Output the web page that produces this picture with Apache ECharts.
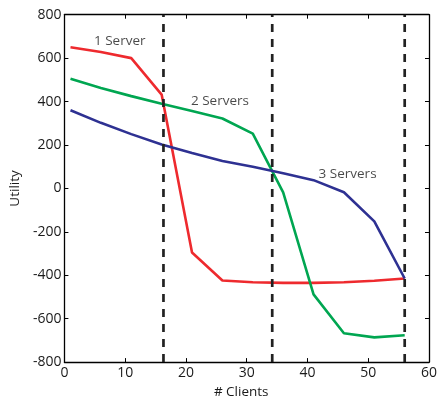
<!DOCTYPE html>
<html>
<head>
<meta charset="utf-8">
<script src="https://cdn.jsdelivr.net/npm/echarts@6/dist/echarts.min.js"></script>
<style>
  html, body { margin: 0; padding: 0; background: #fff; }
  #main { width: 440px; height: 404px; }
</style>
</head>
<body>
<div id="main"></div>
<script>
// clients on x, utility on y
var clients = [1, 6, 11, 16, 21, 26, 31, 36, 41, 46, 51, 56];
var oneServer = [650, 628, 600, 432, -295, -424, -432, -435, -435, -432, -425, -415];
var twoServers = [505, 462, 425, 390, 356, 322, 252, -18, -488, -667, -686, -676];
var threeServers = [360, 302, 250, 202, 163, 126, 100, 70, 38, -18, -152, -415];
var dividers = [16.3, 34.2, 56];
var labelText = ['1 Server', '2 Servers', '3 Servers'];
var labelX = [9.1, 25.6, 46.6];
var labelY = [676, 400, 66];
var xTicks = [0, 10, 20, 30, 40, 50, 60];
var yTicks = [-800, -600, -400, -200, 0, 200, 400, 600, 800];

var font = 'Open Sans';
var ink = '#1a1a1a';

function pairs(ys) {
  var out = [];
  for (var i = 0; i < clients.length; i++) out.push([clients[i], ys[i]]);
  return out;
}

var series = [];
var colors = ['#EE2A2E', '#00A651', '#2E3192'];
var sets = [oneServer, twoServers, threeServers];
for (var i = 0; i < sets.length; i++) {
  series.push({
    type: 'line',
    data: pairs(sets[i]),
    symbol: 'none',
    lineStyle: { color: colors[i], width: 2.6 },
    z: 3
  });
}
for (var j = 0; j < dividers.length; j++) {
  series.push({
    type: 'line',
    data: [[dividers[j], yTicks[0]], [dividers[j], yTicks[yTicks.length - 1]]],
    symbol: 'none',
    lineStyle: { color: '#222', width: 2.7, type: [8, 7] },
    z: 4
  });
}
var labelData = [];
for (var k = 0; k < labelText.length; k++) {
  labelData.push({ value: [labelX[k], labelY[k]], name: labelText[k] });
}
series.push({
  type: 'scatter',
  data: labelData,
  symbolSize: 0,
  label: {
    show: true,
    position: 'inside',
    formatter: function (p) { return p.name; },
    color: ink,
    fontFamily: font,
    fontSize: 13.5
  },
  z: 5
});

var axisCommon = {
  type: 'value',
  axisLine: { show: true, onZero: false, lineStyle: { color: '#000', width: 1.3 } },
  axisTick: { show: true, inside: true, length: 4, lineStyle: { color: '#000', width: 1 } },
  splitLine: { show: false }
};

var chart = echarts.init(document.getElementById('main'));
chart.setOption({
  animation: false,
  grid: { left: 63, right: 6.5, top: 14.7, bottom: 35.7 },
  xAxis: [
    Object.assign({}, axisCommon, {
      min: 0, max: 60, interval: 10,
      name: '# Clients', nameLocation: 'middle', nameGap: 21,
      nameTextStyle: { color: ink, fontFamily: font, fontSize: 13.5, padding: [0, 11, 0, 0] },
      axisLabel: { color: ink, fontFamily: font, fontSize: 14, margin: 4 }
    }),
    Object.assign({}, axisCommon, {
      position: 'top', min: 0, max: 60, interval: 10,
      axisLabel: { show: false }
    })
  ],
  yAxis: [
    Object.assign({}, axisCommon, {
      min: -800, max: 800, interval: 200,
      name: 'Utility', nameLocation: 'middle', nameGap: 37,
      nameTextStyle: { color: ink, fontFamily: font, fontSize: 13.5 },
      axisLabel: { color: ink, fontFamily: font, fontSize: 14, margin: 3 }
    }),
    Object.assign({}, axisCommon, {
      position: 'right', min: -800, max: 800, interval: 200,
      axisLabel: { show: false }
    })
  ],
  series: series
});
</script>
</body>
</html>
